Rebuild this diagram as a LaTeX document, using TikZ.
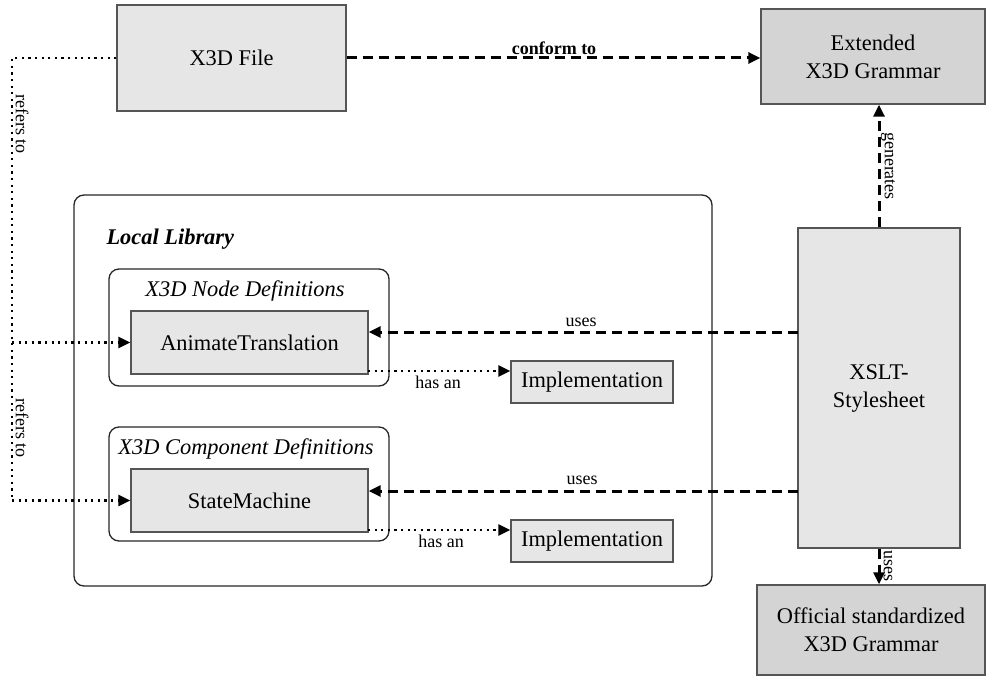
\documentclass[tikz,border=0pt]{standalone}
\usepackage{fontspec}
\setmainfont{Liberation Serif}
\usetikzlibrary{arrows.meta}
\definecolor{boxlight}{HTML}{E6E6E6}
\definecolor{boxdark}{HTML}{D4D4D4}
\definecolor{edge}{HTML}{555555}
\begin{document}
\begin{tikzpicture}[x=1pt,y=-1pt,
  bigfont/.style={font=\fontsize{22.4}{28}\selectfont},
  smallfont/.style={font=\fontsize{18}{22}\selectfont},
  lbox/.style={draw=edge,line width=1.4pt,fill=boxlight,inner sep=0pt,align=center,bigfont},
  dbox/.style={draw=edge,line width=1.4pt,fill=boxdark,inner sep=0pt,align=center,bigfont},
  group/.style={draw=black!85,line width=1.3pt,rounded corners=10pt},
  dasharrow/.style={line width=3pt,dash pattern=on 10pt off 6pt,-{Triangle[length=12pt,width=11pt]}},
  dotarrow/.style={line width=2.5pt,dash pattern=on 2.2pt off 4.4pt,-{Triangle[length=12pt,width=11pt]}},
  dotline/.style={line width=2.5pt,dash pattern=on 2.2pt off 4.4pt},
  lbl/.style={smallfont,inner sep=1pt}]
\useasboundingbox (0,0) rectangle (987,679);

% groups
\draw[group] (74,195) rectangle (712,586);
\node[bigfont,anchor=base west] (loclib) at (103,244) {\textbf{\textit{Local Library}}};
\draw[group] (109,269) rectangle (389,386);
\node[bigfont] (nodedef) at (245,291) {\textit{X3D Node Definitions}};
\draw[group] (109,427) rectangle (389,541);
\node[bigfont] (compdef) at (246,449) {\textit{X3D Component Definitions}};

% boxes
\node[lbox,minimum width=229pt,minimum height=106pt] (x3d) at (231.5,58) {X3D File};
\node[dbox,minimum width=224pt,minimum height=95pt] (ext) at (873,56.5) {Extended\\X3D Grammar};
\node[lbox,minimum width=162pt,minimum height=320pt] (xslt) at (879,388) {XSLT-\\Stylesheet};
\node[dbox,minimum width=228pt,minimum height=90pt] (off) at (871,630) {Official standardized\\X3D Grammar};
\node[lbox,minimum width=237pt,minimum height=63pt] (anim) at (249.5,342.5) {AnimateTranslation};
\node[lbox,minimum width=237pt,minimum height=63pt] (state) at (249.5,500.5) {StateMachine};
\node[lbox,minimum width=162pt,minimum height=42pt] (impl1) at (592,382) {Implementation};
\node[lbox,minimum width=162pt,minimum height=42pt] (impl2) at (592,541) {Implementation};

% coordinates
\coordinate (u1) at (798,332);
\coordinate (u2) at (798,491);
\coordinate (h1) at (368,371);
\coordinate (h2) at (368,530);
\coordinate (rtop) at (12,58);
\coordinate (rmid) at (12,342.5);
\coordinate (rbot) at (12,500.5);

% connectors
\draw[dasharrow] (x3d.east) -- (x3d.east -| ext.west);
\node[smallfont,inner sep=1pt] (conf) at (554,48) {\textbf{conform to}};
\draw[dasharrow] (xslt.north) -- (xslt.north |- ext.south);
\node[lbl,rotate=-90] (gen) at (888,166) {generates};
\draw[dasharrow] (xslt.south) -- (xslt.south |- off.north);
\node[lbl,rotate=-90] (uses3) at (888,566) {uses};
\draw[dasharrow] (u1) -- (u1 -| anim.east);
\node[lbl] (uses1) at (581,322) {uses};
\draw[dasharrow] (u2) -- (u2 -| state.east);
\node[lbl] (uses2) at (582,480) {uses};
\draw[dotarrow] (h1) -- (h1 -| impl1.west);
\node[lbl] (has1) at (438,382) {has an};
\draw[dotarrow] (h2) -- (h2 -| impl2.west);
\node[lbl] (has2) at (441,541) {has an};
\draw[dotline] (x3d.west) -- (rtop) -- (rbot);
\draw[dotarrow] (rbot) -- (state.west);
\draw[dotarrow] (rmid) -- (anim.west);
\node[lbl,rotate=-90] (ref1) at (22,124) {refers to};
\node[lbl,rotate=-90] (ref2) at (22,428) {refers to};
\end{tikzpicture}
\end{document}
